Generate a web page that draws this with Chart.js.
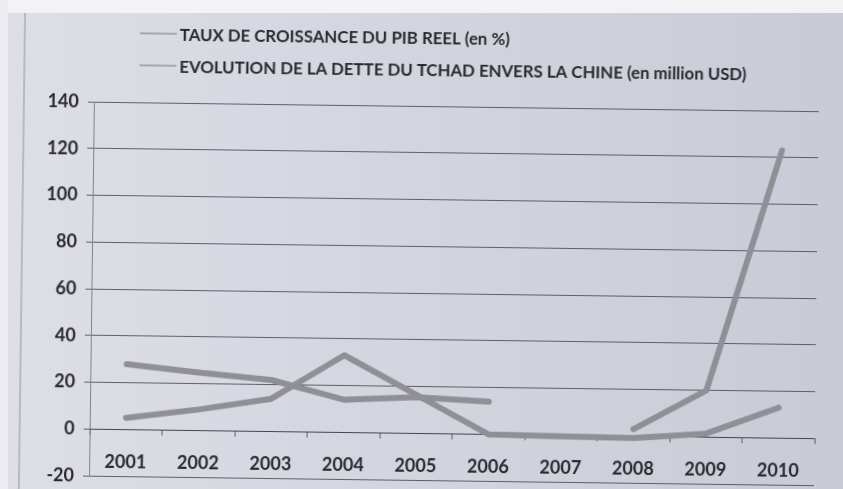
<!DOCTYPE html>
<html><head><meta charset="utf-8">
<script src="https://cdn.jsdelivr.net/npm/chart.js@4.4.0/dist/chart.umd.min.js"></script>
<style>
html,body{margin:0;padding:0;width:843px;height:489px;overflow:hidden;}
body{background:linear-gradient(90deg,#dddee6 0%,#d4d6df 45%,#c8cad5 100%);position:relative;}
#wrap{position:absolute;left:0;top:0;width:843px;height:500px;transform:rotate(0.75deg);transform-origin:421px 250px;}
#topw{position:absolute;left:0;top:0;width:843px;height:13px;background:#f3f3f6;}
#leftw{position:absolute;left:0;top:0;width:8px;height:489px;background:#ececf1;}
</style></head><body>
<div id="wrap"><canvas id="c" width="843" height="500"></canvas></div>
<div id="topw"></div><div id="leftw"></div>
<script>
// ---- data ----
const years = ['2001','2002','2003','2004','2005','2006','2007','2008','2009','2010'];
const gdpGrowth = [5, 9, 14, 33, 16.5, 0, -0.5, -0.8, 1.5, 13];
const debtChina = [28, 24.8, 22, 14, 15.5, 14, null, 3, 20, 123];
const seriesLabels = ['TAUX DE CROISSANCE DU PIB REEL (en %)',
                      'EVOLUTION DE LA DETTE DU TCHAD ENVERS LA CHINE (en million USD)'];
const yMin = -20, yMax = 140, yStep = 20;

const FONT = 'Lato, "Liberation Sans", sans-serif';
const LINE = '#8f8f95';
const GRID = 'rgba(62,62,72,0.78)';
const TEXT = '#2a2a30';

const photoLegend = {
  id: 'photoLegend',
  beforeDraw(chart) {
    const ctx = chart.ctx;
    ctx.save();
    ctx.strokeStyle = 'rgba(110,110,122,0.55)';
    ctx.lineWidth = 1.2;
    ctx.beginPath(); ctx.moveTo(22, 12); ctx.lineTo(22, 500); ctx.stroke();
    ctx.restore();
  },
  afterDraw(chart) {
    const ctx = chart.ctx;
    chart.data.datasets.forEach((ds, i) => {
      const y = 37 + i * 32;
      ctx.save();
      ctx.strokeStyle = '#96969c';
      ctx.lineWidth = 1.6;
      ctx.beginPath(); ctx.moveTo(137, y); ctx.lineTo(174, y); ctx.stroke();
      ctx.fillStyle = TEXT;
      ctx.font = 'bold 16.8px ' + FONT;
      ctx.textBaseline = 'middle';
      ctx.fillText(ds.label, 177, y + 1.5);
      ctx.restore();
    });
  }
};

new Chart(document.getElementById('c'), {
  type: 'line',
  data: {
    labels: years,
    datasets: [
      { label: seriesLabels[0], data: gdpGrowth, borderColor: LINE, backgroundColor: LINE,
        borderWidth: 6, pointRadius: 0, tension: 0, borderCapStyle: 'round', borderJoinStyle: 'round' },
      { label: seriesLabels[1], data: debtChina, borderColor: LINE, backgroundColor: LINE,
        borderWidth: 6, pointRadius: 0, tension: 0, spanGaps: false, borderCapStyle: 'round', borderJoinStyle: 'round' }
    ]
  },
  options: {
    responsive: false,
    animation: false,
    devicePixelRatio: 1,
    layout: { padding: { top: 106, left: 0, right: 26, bottom: 16 } },
    plugins: { legend: { display: false }, tooltip: { enabled: false } },
    scales: {
      x: {
        type: 'category',
        offset: true,
        position: { y: 0 },
        grid: { offset: true, drawOnChartArea: false, drawTicks: true, tickLength: 5, color: GRID, lineWidth: 1 },
        border: { display: true, color: GRID, width: 1 },
        ticks: { color: TEXT, padding: 17, maxRotation: 0, autoSkip: false, font: { family: FONT, size: 18, weight: 'bold' } }
      },
      y: {
        min: yMin, max: yMax,
        afterFit(scale) { scale.width = 92; },
        grid: { color: GRID, lineWidth: 1, tickLength: 6, drawTicks: true },
        border: { display: true, color: 'rgba(70,70,80,0.6)', width: 1 },
        ticks: { stepSize: yStep, color: TEXT, padding: 9, font: { family: FONT, size: 18, weight: 'bold' } }
      }
    }
  },
  plugins: [photoLegend]
});
</script>
</body></html>
